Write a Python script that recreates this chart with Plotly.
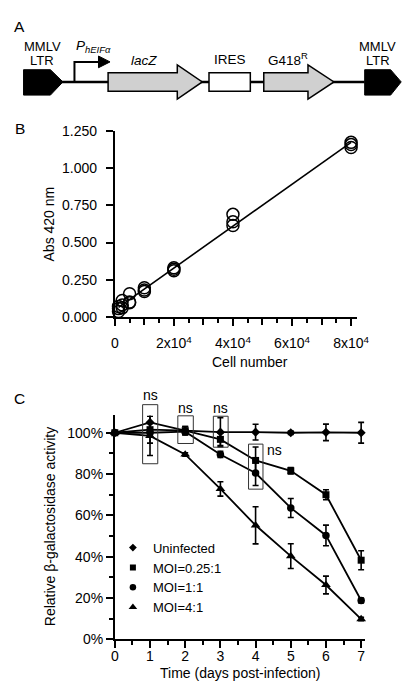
import numpy as np
import plotly.graph_objects as go

W, H = 410, 682
FONT = "Liberation Sans, Arial, sans-serif"

# ---------------- Panel B data ----------------
cell_number = [1250, 2500, 5000, 10000, 20000, 40000, 80000]
abs_rep1 = [0.035, 0.060, 0.095, 0.170, 0.310, 0.615, 1.140]
abs_rep2 = [0.055, 0.080, 0.100, 0.180, 0.320, 0.640, 1.160]
abs_rep3 = [0.070, 0.110, 0.155, 0.195, 0.330, 0.690, 1.175]
b_tick_vals = [0, 20000, 40000, 60000, 80000]
b_tick_text = ["0", "2x10<sup>4</sup>", "4x10<sup>4</sup>", "6x10<sup>4</sup>", "8x10<sup>4</sup>"]
b_mid_ticks = [10000, 30000, 50000, 70000]
b_minor_ticks = [5000, 15000, 25000, 35000, 45000, 55000, 65000, 75000]
b_ytick_vals = [0, 0.25, 0.5, 0.75, 1.0, 1.25]

# ---------------- Panel C data ----------------
days = [0, 1, 2, 3, 4, 5, 6, 7]
uninfected = [100, 105, 101, 100.3, 100.3, 100, 100.2, 100]
uninfected_err = [0, 4.5, 2, 7, 3.8, 0.8, 4, 5]
moi_025 = [100, 101.5, 101, 96.8, 86.6, 81.6, 70, 38.3]
moi_025_err = [0, 3, 2, 3, 6.5, 1.5, 2.4, 4.6]
moi_1 = [100, 100, 100.5, 89.5, 80.5, 63.6, 50.3, 18.8]
moi_1_err = [0, 5, 1.5, 1.5, 6, 4.6, 5, 1.2]
moi_4 = [100, 98.5, 89.5, 72.8, 55.2, 40.3, 26.3, 9.8]
moi_4_err = [0, 9.5, 0.8, 3.5, 9, 6, 4.3, 0.8]
series_names = ["Uninfected", "MOI=0.25:1", "MOI=1:1", "MOI=4:1"]
c_ytick_vals = [0, 0.2, 0.4, 0.6, 0.8, 1.0]
c_yminor_vals = [0.1, 0.3, 0.5, 0.7, 0.9]

# ---------------- geometry helpers ----------------
def px(x):
    return x / W

def py(y):
    return 1 - y / H

XB_RANGE = [0, 82000]
YB_RANGE = [0, 1.25]
XC_RANGE = [0, 7.1]
YC_TOP = 1.084
FS = 14

fig = go.Figure()

# ---------------- Panel B traces ----------------
all_x = cell_number * 3
all_y = abs_rep1 + abs_rep2 + abs_rep3
slope, intercept = np.polyfit(all_x, all_y, 1)
fit_x = [min(cell_number), max(cell_number)]
fit_y = [slope * v + intercept for v in fit_x]
fig.add_trace(go.Scatter(x=fit_x, y=fit_y, mode="lines", line=dict(color="black", width=1.6),
                         showlegend=False, xaxis="x", yaxis="y", hoverinfo="skip"))
fig.add_trace(go.Scatter(x=all_x, y=all_y, mode="markers",
                         marker=dict(symbol="circle-open", size=12, color="black", line=dict(width=1.5)),
                         showlegend=False, xaxis="x", yaxis="y", cliponaxis=False))
# carrier for the overlay axis that draws the unlabeled 1x10^4 ticks
fig.add_trace(go.Scatter(x=[None], y=[None], mode="markers", showlegend=False, xaxis="x3", yaxis="y",
                         hoverinfo="skip"))

# ---------------- Panel C traces ----------------
symbols = ["diamond", "square", "circle", "triangle-up"]
sizes = [7, 7, 7.5, 8.5]
vals = [uninfected, moi_025, moi_1, moi_4]
errs = [uninfected_err, moi_025_err, moi_1_err, moi_4_err]
for name, sym, sz, v, e in zip(series_names, symbols, sizes, vals, errs):
    fig.add_trace(go.Scatter(
        x=days, y=[a / 100 for a in v], mode="lines+markers",
        line=dict(color="black", width=1.8),
        marker=dict(symbol=sym, size=sz, color="black"),
        error_y=dict(type="data", array=[a / 100 for a in e], color="black", thickness=1.6, width=3),
        showlegend=False, xaxis="x2", yaxis="y2", cliponaxis=False))
for name, sym, sz in zip(series_names, symbols, sizes):
    fig.add_trace(go.Scatter(x=[None], y=[None], mode="markers", name=name,
                             marker=dict(symbol=sym, size=sz - 1, color="black"),
                             xaxis="x2", yaxis="y2"))

# ---------------- shapes ----------------
shapes = []
# ns boxes (days, percentage range)
ns_boxes = [(0.79, 1.22, 85, 113.6), (1.79, 2.23, 94.8, 108.2), (2.80, 3.22, 93, 108), (3.80, 4.21, 72.7, 94.5)]
for (x0, x1, y0, y1) in ns_boxes:
    shapes.append(dict(type="rect", xref="x2", yref="y2 domain", x0=x0, x1=x1,
                       y0=y0 / 100 / YC_TOP, y1=y1 / 100 / YC_TOP,
                       line=dict(color="#333333", width=1), fillcolor="rgba(0,0,0,0)"))

def path(points, close=True):
    s = "M " + " L ".join(f"{px(x):.5f} {py(y):.5f}" for x, y in points)
    return s + (" Z" if close else "")

BK = 67.5
shapes.append(dict(type="line", xref="paper", yref="paper", x0=px(52), x1=px(367), y0=py(BK), y1=py(BK),
                   line=dict(color="black", width=2.5)))
shapes.append(dict(type="path", xref="paper", yref="paper",
                   path=path([(12, 55), (40, 55), (53, BK), (40, 81), (12, 81)]),
                   fillcolor="black", line=dict(color="black", width=1)))
shapes.append(dict(type="path", xref="paper", yref="paper",
                   path=path([(65, BK), (65, 47), (91, 47)], close=False),
                   line=dict(color="black", width=2)))
shapes.append(dict(type="path", xref="paper", yref="paper",
                   path=path([(90, 41), (102, 47), (90, 53)]),
                   fillcolor="black", line=dict(color="black", width=1)))
shapes.append(dict(type="path", xref="paper", yref="paper",
                   path=path([(100, 58), (172, 58), (172, 50), (198, BK), (172, 85), (172, 77), (100, 77)]),
                   fillcolor="#d0d0d0", line=dict(color="black", width=1.5)))
shapes.append(dict(type="path", xref="paper", yref="paper",
                   path=path([(205, 58), (248, 58), (248, 77), (205, 77)]),
                   fillcolor="white", line=dict(color="black", width=1.5)))
shapes.append(dict(type="path", xref="paper", yref="paper",
                   path=path([(262, 58), (308, 58), (308, 50), (335, BK), (308, 85), (308, 77), (262, 77)]),
                   fillcolor="#d0d0d0", line=dict(color="black", width=1.5)))
shapes.append(dict(type="path", xref="paper", yref="paper",
                   path=path([(367, 55), (394, 55), (405, BK), (394, 81), (367, 81)]),
                   fillcolor="black", line=dict(color="black", width=1)))

# ---------------- annotations ----------------
ann = []
def txt(x, y, text, size=FS, angle=0, xanchor="center"):
    ann.append(dict(x=px(x), y=py(y), xref="paper", yref="paper", text=text, showarrow=False,
                    xanchor=xanchor, yanchor="middle", textangle=angle,
                    font=dict(family=FONT, size=size, color="black")))

txt(8, 11, "A", 15.5)
txt(8, 115, "B", 15.5)
txt(8, 392, "C", 15.5)
txt(32, 31.5, "MMLV", 13)
txt(31, 45.5, "LTR", 13)
txt(380, 31.5, "MMLV", 13)
txt(381, 45.5, "LTR", 13)
txt(64, 31, "<i>P</i><sub><i>hEIFα</i></sub>", 13.5, xanchor="left")
txt(137, 46, "<i>lacZ</i>", 13.5)
txt(227, 45, "IRES", 13.5)
txt(287, 44, "G418<sup>R</sup>", 13.5)
txt(39, 213, "Abs 420 nm", FS, angle=-90)
txt(248, 354, "Cell number", FS)
txt(39, 523, "Relative β-galactosidase activity", FS, angle=-90)
txt(238, 673, "Time (days post-infection)", FS)

ns_label_pos = [(1.01, 118.1, "center"), (2.01, 112.2, "center"), (3.01, 112.2, "center"), (4.26, 91.8, "left")]
for (xv, yv, xa) in ns_label_pos:
    ann.append(dict(x=xv, y=yv / 100 / YC_TOP, xref="x2", yref="y2 domain", text="ns", showarrow=False,
                    xanchor=xa, yanchor="middle", font=dict(family=FONT, size=FS, color="black")))

axis_common = dict(showline=True, linecolor="black", linewidth=1.8, ticks="outside", ticklen=7,
                   tickwidth=1.5, tickcolor="black", showgrid=False, zeroline=False,
                   tickfont=dict(family=FONT, size=FS, color="black"))
minor_common = dict(ticklen=4, tickwidth=1.5, tickcolor="black", ticks="outside")

fig.update_layout(
    width=W, height=H, autosize=False,
    margin=dict(l=0, r=0, t=0, b=0),
    paper_bgcolor="white", plot_bgcolor="rgba(0,0,0,0)",
    font=dict(family=FONT, size=FS, color="black"),
    xaxis=dict(domain=[px(107), px(359)], range=XB_RANGE, anchor="y",
               tickvals=b_tick_vals, ticktext=b_tick_text, ticklabelstandoff=6,
               minor=dict(tickvals=b_minor_ticks, **minor_common),
               **axis_common),
    xaxis3=dict(domain=[px(107), px(359)], range=XB_RANGE, anchor="y", overlaying="x",
                side="bottom", tickvals=b_mid_ticks, showticklabels=False, showline=False,
                ticks="outside", ticklen=7, tickwidth=1.5, tickcolor="black",
                showgrid=False, zeroline=False),
    yaxis=dict(domain=[py(308), py(118)], range=YB_RANGE, anchor="x",
               tickvals=b_ytick_vals, tickformat=".3f", ticklabelstandoff=6, **axis_common),
    xaxis2=dict(domain=[px(107), px(367)], range=XC_RANGE, anchor="y2",
                tickvals=days, ticklabelstandoff=-4, minor=dict(dtick=0.5, **minor_common),
                **axis_common),
    yaxis2=dict(domain=[py(638.3), py(409)], range=[0, YC_TOP], anchor="x2",
                tickvals=c_ytick_vals, tickformat=".0%",
                minor=dict(tickvals=c_yminor_vals, **minor_common),
                **axis_common),
    legend=dict(x=px(105), y=py(529), xanchor="left", yanchor="top",
                font=dict(family=FONT, size=13, color="black"),
                bgcolor="rgba(0,0,0,0)", borderwidth=0),
    shapes=shapes,
    annotations=ann,
)

fig.write_html("out.html")
